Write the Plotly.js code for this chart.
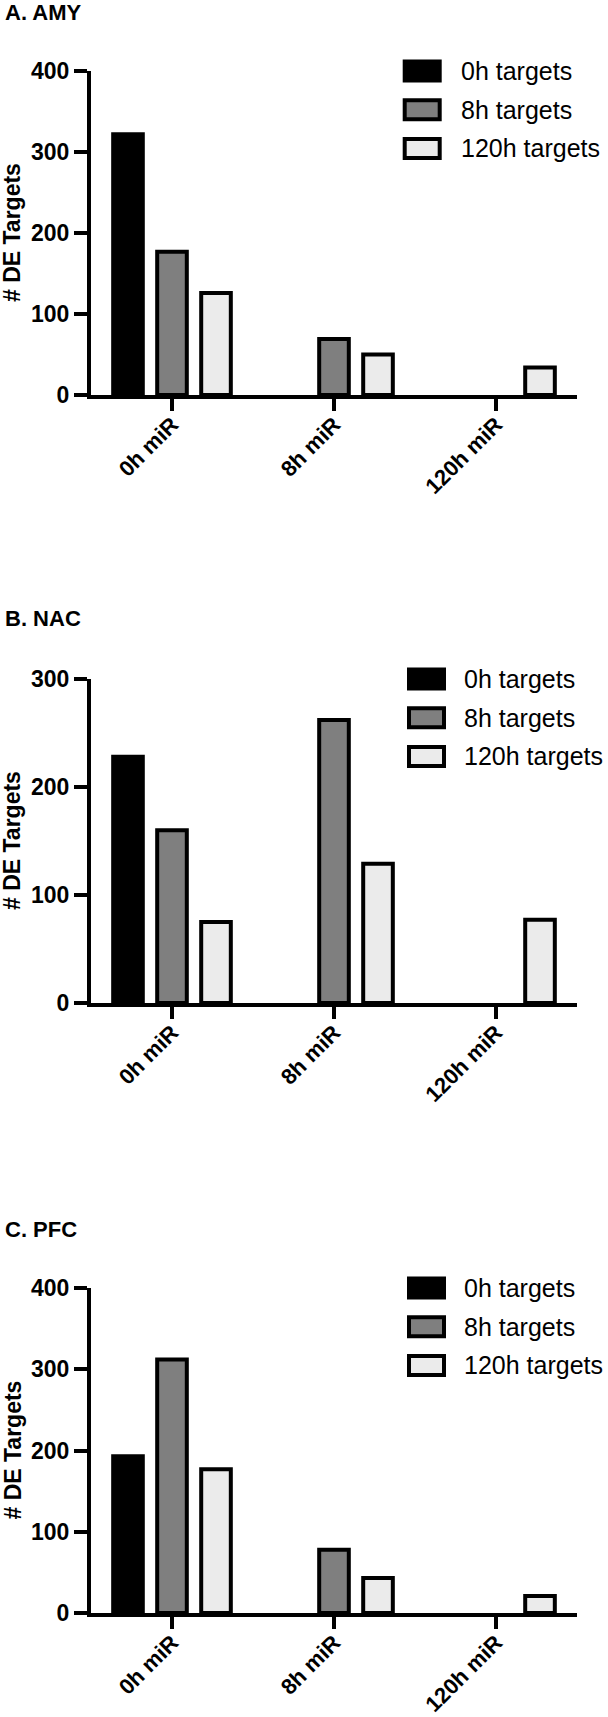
<!DOCTYPE html>
<html><head><meta charset="utf-8">
<script src="https://cdn.plot.ly/plotly-3.0.1.min.js"></script>
<style>html,body{margin:0;padding:0;background:#fff}</style>
</head><body><div id="chart" style="width:608px;height:1717px"></div>
<script>
// ---- data (null = no bar drawn) ----
const categories = ['0h miR', '8h miR', '120h miR'];
const seriesNames = ['0h targets', '8h targets', '120h targets'];
const panelTitles = ['A. AMY', 'B. NAC', 'C. PFC'];
const yTitle = '# DE Targets';
const yMax = [400, 300, 400];

const amy0h = [322, null, null];
const amy8h = [177, 69, null];
const amy120h = [126, 50, 34];

const nac0h = [228, null, null];
const nac8h = [160, 262, null];
const nac120h = [75, 129, 77];

const pfc0h = [193, null, null];
const pfc8h = [312, 78, null];
const pfc120h = [177, 43, 21];

const panels = [[amy0h, amy8h, amy120h], [nac0h, nac8h, nac120h], [pfc0h, pfc8h, pfc120h]];

// ---- style / layout ----
const W = 608, H = 1717;
const FONT = 'Liberation Sans, Arial, Helvetica, sans-serif';
const fills = ['#000000', '#7f7f7f', '#ebebeb'];
const px = v => v / W;
const py = v => 1 - v / H;
const plotTop = [71, 679, 1288];
const plotBottom = [395, 1003, 1613];
const titleY = [12, 619, 1229];
const legX = [402.7, 407, 407];
const legTextX = [459, 462, 462];
const legStep = 38.7;

const traces = [];
const layout = {
  width: W, height: H,
  margin: {l: 0, r: 0, t: 0, b: 0},
  paper_bgcolor: '#fff', plot_bgcolor: '#fff',
  font: {family: FONT, color: '#000'},
  barmode: 'group', bargap: 0.185, bargroupgap: 0.327,
  showlegend: false,
  annotations: [], shapes: []
};

panels.forEach((series, p) => {
  const sfx = p === 0 ? '' : String(p + 1);
  series.forEach((vals, s) => {
    traces.push({
      type: 'bar', x: categories, y: vals, name: seriesNames[s],
      xaxis: 'x' + sfx, yaxis: 'y' + sfx,
      marker: {color: fills[s], line: {color: '#000', width: 4}},
      hoverinfo: 'x+y+name', cliponaxis: false
    });
  });
  layout['xaxis' + sfx] = {
    domain: [px(91), px(577)], anchor: 'y' + sfx, type: 'category',
    range: [-0.5, 2.5], showline: true, linewidth: 4, linecolor: '#000',
    ticks: 'outside', ticklen: 12, tickwidth: 4, tickcolor: '#000',
    tickangle: -45, ticklabelstandoff: -8,
    tickfont: {family: FONT, size: 22, weight: 'bold', color: '#000'},
    showgrid: false, zeroline: false, fixedrange: true
  };
  layout['yaxis' + sfx] = {
    domain: [py(plotBottom[p]), py(plotTop[p])], anchor: 'x' + sfx,
    range: [0, yMax[p]], tick0: 0, dtick: 100,
    showline: true, linewidth: 4, linecolor: '#000',
    ticks: 'outside', ticklen: 13, tickwidth: 4, tickcolor: '#000',
    tickfont: {family: FONT, size: 23, weight: 'bold', color: '#000'},
    showgrid: false, zeroline: false, fixedrange: true
  };
  // panel title
  layout.annotations.push({
    xref: 'paper', yref: 'paper', x: px(3), y: py(titleY[p]),
    xanchor: 'left', yanchor: 'middle', showarrow: false,
    text: panelTitles[p], font: {family: FONT, size: 22, weight: 'bold', color: '#000'}
  });
  // y axis title
  layout.annotations.push({
    xref: 'paper', yref: 'paper', x: px(12), y: py((plotTop[p] + plotBottom[p]) / 2),
    xanchor: 'center', yanchor: 'middle', showarrow: false, textangle: -90,
    text: yTitle, font: {family: FONT, size: 23, weight: 'bold', color: '#000'}
  });
  // legend
  seriesNames.forEach((nm, s) => {
    const cy = plotTop[p] + s * legStep;
    layout.shapes.push({
      type: 'rect', xref: 'paper', yref: 'paper',
      x0: px(legX[p] + 2), x1: px(legX[p] + 37), y0: py(cy + 9.5), y1: py(cy - 9.5),
      fillcolor: fills[s], line: {color: '#000', width: 4}
    });
    layout.annotations.push({
      xref: 'paper', yref: 'paper', x: px(legTextX[p]), y: py(cy),
      xanchor: 'left', yanchor: 'middle', showarrow: false,
      text: nm, font: {family: FONT, size: 25, color: '#000'}
    });
  });
});

Plotly.newPlot('chart', traces, layout, {staticPlot: true, displayModeBar: false});
</script></body></html>
